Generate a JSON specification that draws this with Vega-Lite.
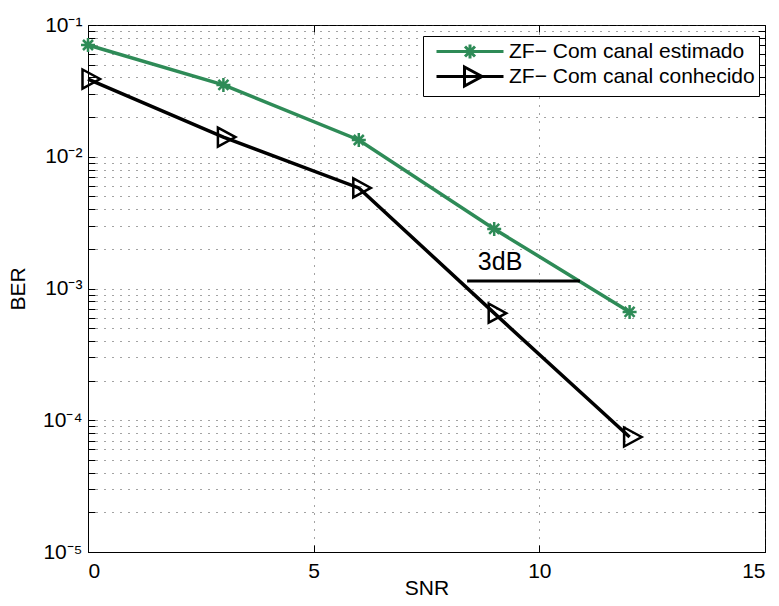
{
  "$schema": "https://vega.github.io/schema/vega-lite/v6.json",
  "width": 677,
  "height": 527,
  "autosize": {"type": "none"},
  "padding": {"left": 88, "top": 25, "right": 14, "bottom": 54},
  "background": "white",
  "config": {
    "font": "Liberation Sans",
    "view": {"stroke": "black", "strokeWidth": 1},
    "axis": {
      "domainColor": "black",
      "tickColor": "black",
      "labelColor": "black",
      "titleColor": "black",
      "labelFont": "Liberation Sans",
      "titleFont": "Liberation Sans",
      "labelFontSize": 21,
      "titleFontSize": 21,
      "titleFontWeight": "normal",
      "gridColor": "#333333",
      "gridDash": [1, 7],
      "gridWidth": 1,
      "gridOpacity": 0.9,
      "tickSize": -7,
      "tickWidth": 1
    }
  },
  "datasets": {
    "ber": [
      {"SNR": 0, "BER": 0.0705, "series": "ZF− Com canal estimado"},
      {"SNR": 3, "BER": 0.0351, "series": "ZF− Com canal estimado"},
      {"SNR": 6, "BER": 0.0134, "series": "ZF− Com canal estimado"},
      {"SNR": 9, "BER": 0.00283, "series": "ZF− Com canal estimado"},
      {"SNR": 12, "BER": 0.000664, "series": "ZF− Com canal estimado"},
      {"SNR": 0, "BER": 0.0389, "series": "ZF− Com canal conhecido"},
      {"SNR": 3, "BER": 0.0141, "series": "ZF− Com canal conhecido"},
      {"SNR": 6, "BER": 0.0058, "series": "ZF− Com canal conhecido"},
      {"SNR": 9, "BER": 0.00065, "series": "ZF− Com canal conhecido"},
      {"SNR": 12, "BER": 0.0000746, "series": "ZF− Com canal conhecido"}
    ],
    "gap": [{"x1": 8.4, "x2": 10.9, "y": 0.00114}],
    "note": [{"x": 9.13, "y": 0.00159, "label": "3dB"}]
  },
  "layer": [
    {
      "data": {"name": "ber"},
      "mark": {"type": "line", "strokeWidth": 3.5},
      "encoding": {
        "x": {
          "field": "SNR", "type": "quantitative",
          "scale": {"domain": [0, 15], "nice": false, "zero": false},
          "axis": {"values": [0, 5, 10, 15], "grid": true, "title": "SNR", "labelPadding": 15, "titlePadding": -4, "format": "d"}
        },
        "y": {
          "field": "BER", "type": "quantitative",
          "scale": {"type": "log", "domain": [0.00001, 0.1], "nice": false},
          "axis": {
            "values": [0.00001, 0.00002, 0.00003, 0.00004, 0.00005, 0.00006, 0.00007, 0.00008, 0.00009,
                       0.0001, 0.0002, 0.0003, 0.0004, 0.0005, 0.0006, 0.0007, 0.0008, 0.0009,
                       0.001, 0.002, 0.003, 0.004, 0.005, 0.006, 0.007, 0.008, 0.009,
                       0.01, 0.02, 0.03, 0.04, 0.05, 0.06, 0.07, 0.08, 0.09, 0.1],
            "labelExpr": "abs(log(datum.value)/LN10 - round(log(datum.value)/LN10)) < 0.001 ? '10⁻' + ['⁰','¹','²','³','⁴','⁵'][-round(log(datum.value)/LN10)] : ''",
            "grid": true, "title": "BER", "labelPadding": 13, "titlePadding": 14, "labelBound": false, "labelOverlap": false, "labelFlush": false
          }
        },
        "color": {
          "field": "series", "type": "nominal",
          "scale": {"domain": ["ZF− Com canal estimado", "ZF− Com canal conhecido"], "range": ["#2e8b57", "#000000"]},
          "legend": {
            "title": null,
            "orient": "none",
            "legendX": 335,
            "legendY": 11,
            "fillColor": "white",
            "strokeColor": "black",
            "padding": 4,
            "labelFont": "Liberation Sans",
            "labelFontSize": 21,
            "labelColor": "black",
            "labelLimit": 500,
            "labelOffset": 27.5,
            "symbolOffset": 31.5,
            "rowPadding": -5,
            "symbolSize": 400,
            "symbolStrokeWidth": 3,
            "symbolOpacity": 1,
            "symbolFillColor": "transparent"
          }
        }
      }
    },
    {
      "data": {"name": "ber"},
      "mark": {"type": "point", "filled": false, "opacity": 0, "size": 400},
      "encoding": {
        "x": {"field": "SNR", "type": "quantitative", "axis": null},
        "y": {"field": "BER", "type": "quantitative", "axis": null},
        "color": {"field": "series", "type": "nominal"},
        "shape": {
          "field": "series", "type": "nominal",
          "scale": {"domain": ["ZF− Com canal estimado", "ZF− Com canal conhecido"],
                    "range": ["M-3.35,0H3.35M-0.7,0H0.7M0,-0.7V0.7M-0.5,-0.5L0.5,0.5M-0.5,0.5L0.5,-0.5", "M-3.35,0H3.35M-0.55,-0.95L1.2,0L-0.55,0.95Z"]}
        }
      }
    },
    {
      "data": {"name": "ber"},
      "transform": [{"filter": "datum.series === 'ZF− Com canal estimado'"}],
      "mark": {"type": "point", "filled": false, "strokeWidth": 2.5, "size": 400, "opacity": 1, "stroke": "#2e8b57",
               "shape": "M-0.7,0H0.7M0,-0.7V0.7M-0.5,-0.5L0.5,0.5M-0.5,0.5L0.5,-0.5"},
      "encoding": {
        "x": {
          "field": "SNR", "type": "quantitative",
          "axis": {"orient": "top", "values": [0, 5, 10, 15], "labels": false, "grid": false, "title": null, "domain": false}
        },
        "y": {
          "field": "BER", "type": "quantitative",
          "axis": {
            "orient": "right",
            "values": [0.00001, 0.00002, 0.00003, 0.00004, 0.00005, 0.00006, 0.00007, 0.00008, 0.00009,
                       0.0001, 0.0002, 0.0003, 0.0004, 0.0005, 0.0006, 0.0007, 0.0008, 0.0009,
                       0.001, 0.002, 0.003, 0.004, 0.005, 0.006, 0.007, 0.008, 0.009,
                       0.01, 0.02, 0.03, 0.04, 0.05, 0.06, 0.07, 0.08, 0.09, 0.1],
            "labels": false, "grid": false, "title": null, "domain": false
          }
        }
      }
    },
    {
      "data": {"name": "ber"},
      "transform": [{"filter": "datum.series === 'ZF− Com canal conhecido'"}],
      "mark": {"type": "point", "filled": false, "strokeWidth": 2.5, "size": 400, "opacity": 1, "stroke": "#000000",
               "shape": "M-0.55,-0.95L1.2,0L-0.55,0.95Z"},
      "encoding": {
        "x": {"field": "SNR", "type": "quantitative", "axis": null},
        "y": {"field": "BER", "type": "quantitative", "axis": null}
      }
    },
    {
      "data": {"name": "gap"},
      "mark": {"type": "rule", "color": "black", "strokeWidth": 3},
      "encoding": {
        "x": {"field": "x1", "type": "quantitative", "axis": null},
        "x2": {"field": "x2"},
        "y": {"field": "y", "type": "quantitative", "axis": null}
      }
    },
    {
      "data": {"name": "note"},
      "mark": {"type": "text", "font": "Liberation Sans", "fontSize": 25, "color": "black"},
      "encoding": {
        "x": {"field": "x", "type": "quantitative", "axis": null},
        "y": {"field": "y", "type": "quantitative", "axis": null},
        "text": {"field": "label"}
      }
    }
  ],
  "resolve": {"axis": {"x": "independent", "y": "independent"}}
}
